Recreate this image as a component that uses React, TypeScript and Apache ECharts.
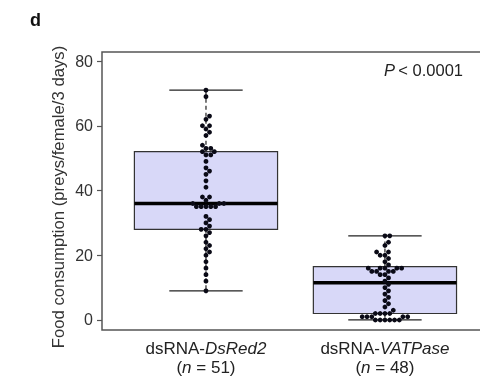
import { useEffect, useRef } from "react";
import * as echarts from "echarts";

// ---- data ----
const groupGenes = ["DsRed2", "VATPase"];
const groupN = [51, 48];
const dsRed2Values = [
  71, 69, 63, 62, 60, 60, 59, 58, 57, 54, 53, 53, 52, 52, 51, 51, 49, 47, 46, 45,
  43, 41, 38, 38, 37, 36, 36, 36, 35, 35, 35, 35, 35, 32, 31, 30, 29, 28, 28, 27,
  26, 24, 23, 22, 21, 20, 18, 16, 14, 12, 9,
];
const vatpaseValues = [
  26, 26, 24, 23, 21, 21, 20, 20, 19, 18, 17, 16, 16, 16, 16, 16, 15, 15, 15, 15,
  14, 14, 13, 12, 11, 10, 9, 8, 7, 6, 5, 4, 3, 2, 2, 2, 2, 1, 1, 1, 1, 1, 0, 0, 0,
  0, 0, 0,
];
// [min, Q1, median, Q3, max]
const dsRed2Box = [9, 28, 36, 52, 71];
const vatpaseBox = [0, 2, 11.5, 16.5, 26];
const yTickValues = [0, 20, 40, 60, 80];
const pValueText = "< 0.0001";
const yTitle = "Food consumption (preys/female/3 days)";

// ---- layout constants ----
const X_MIN = 0.419;
const X_MAX = 2.587;
const Y_MIN = -3.1;
const Y_MAX = 82.8;
const GRID_LEFT = 102;
const GRID_TOP = 52;
const GRID_W = 388;
const GRID_H = 278;
const PX_PER_X = GRID_W / (X_MAX - X_MIN);
const PX_PER_Y = GRID_H / (Y_MAX - Y_MIN);
const DOT = 4.8;
const BOX_W = 0.8;
const CAP_W = 0.41;
const FONT = "'Liberation Sans', Arial, Helvetica, sans-serif";

function swarmOffsets(values: number[]): number[] {
  const order = values.map((_, i) => i).sort((a, b) => values[a] - values[b]);
  const placed: { x: number; y: number }[] = [];
  const out = new Array(values.length).fill(0);
  const d = DOT;
  for (const i of order) {
    const y = values[i] * PX_PER_Y;
    const cands = [0];
    for (const p of placed) {
      const dy = Math.abs(p.y - y);
      if (dy < d) {
        const dx = Math.sqrt(d * d - dy * dy);
        cands.push(p.x + dx, p.x - dx);
      }
    }
    cands.sort((a, b) => Math.abs(a) - Math.abs(b));
    let chosen = 0;
    for (const c of cands) {
      if (placed.every((p) => (p.x - c) ** 2 + (p.y - y) ** 2 >= d * d - 1e-6)) {
        chosen = c;
        break;
      }
    }
    placed.push({ x: chosen, y });
    out[i] = chosen;
  }
  return out;
}

export default function App() {
  const ref = useRef<HTMLDivElement>(null);

  useEffect(() => {
    if (!ref.current) return;
    const chart = echarts.init(ref.current, null, { renderer: "svg" });

    const groups = [dsRed2Values, vatpaseValues];
    const boxes = [dsRed2Box, vatpaseBox];
    const points: number[][] = [];
    groups.forEach((vals, gi) => {
      const offs = swarmOffsets(vals);
      vals.forEach((v, i) => points.push([gi + 1 + offs[i] / PX_PER_X, v]));
    });
    const boxData = boxes.map((b, gi) => [gi + 1, ...b]);

    const option: any = {
      animation: false,
      title: {
        text: "d",
        left: 25,
        top: 6,
        textStyle: { fontFamily: FONT, fontWeight: "bold", fontSize: 18, color: "#111" },
      },
      grid: {
        left: GRID_LEFT,
        top: GRID_TOP,
        width: GRID_W,
        height: GRID_H,
        outerBoundsMode: "none",
        containLabel: false,
        show: true,
        borderColor: "#555",
        borderWidth: 1.5,
        backgroundColor: "transparent",
      },
      xAxis: {
        type: "value",
        min: X_MIN,
        max: X_MAX,
        splitLine: { show: false },
        axisLine: { show: false },
        axisTick: { show: false },
        axisLabel: {
          customValues: [1, 2],
          margin: 9,
          lineHeight: 19,
          formatter: (val: number) => {
            const gi = Math.round(val) - 1;
            return `{a|dsRNA-}{i|${groupGenes[gi]}}\n{a|(}{i|n}{a| = ${groupN[gi]})}`;
          },
          rich: {
            a: { fontFamily: FONT, fontSize: 17, color: "#222", lineHeight: 19 },
            i: { fontFamily: FONT, fontSize: 17, color: "#222", fontStyle: "italic", lineHeight: 19 },
          },
        },
      },
      yAxis: {
        type: "value",
        min: Y_MIN,
        max: Y_MAX,
        splitLine: { show: false },
        axisLine: { show: false },
        axisTick: {
          show: true,
          customValues: yTickValues,
          length: 5,
          lineStyle: { color: "#555", width: 1.2 },
        },
        axisLabel: {
          customValues: yTickValues,
          margin: 9,
          fontFamily: FONT,
          fontSize: 16,
          color: "#333",
        },
      },
      graphic: [
        {
          type: "text",
          x: 58,
          y: 197,
          rotation: Math.PI / 2,
          style: {
            text: yTitle,
            fontFamily: FONT,
            fontSize: 16.7,
            fill: "#333",
            align: "center",
            verticalAlign: "middle",
          },
        },
        {
          type: "text",
          x: 463,
          y: 70,
          style: {
            text: `{i|P} {a|${pValueText}}`,
            align: "right",
            verticalAlign: "middle",
            rich: {
              i: { fontFamily: FONT, fontSize: 16.5, fontStyle: "italic", fill: "#222" },
              a: { fontFamily: FONT, fontSize: 16.5, fill: "#222" },
            },
          },
        },
      ],
      series: [
        {
          type: "custom",
          data: boxData,
          encode: { x: 0, y: [1, 2, 3, 4, 5] },
          clip: false,
          z: 1,
          renderItem: (_params: any, api: any) => {
            const x = api.value(0);
            const [cx, yMin] = api.coord([x, api.value(1)]);
            const yQ1 = api.coord([x, api.value(2)])[1];
            const yMed = api.coord([x, api.value(3)])[1];
            const yQ3 = api.coord([x, api.value(4)])[1];
            const yMax = api.coord([x, api.value(5)])[1];
            const hw = api.size([BOX_W, 0])[0] / 2;
            const cw = api.size([CAP_W, 0])[0] / 2;
            const line = "#222";
            return {
              type: "group",
              children: [
                {
                  type: "line",
                  shape: { x1: cx, y1: yQ3, x2: cx, y2: yMax },
                  style: { stroke: line, lineWidth: 1.2, lineDash: [4, 3] },
                },
                {
                  type: "line",
                  shape: { x1: cx, y1: yQ1, x2: cx, y2: yMin },
                  style: { stroke: line, lineWidth: 1.2, lineDash: [4, 3] },
                },
                {
                  type: "line",
                  shape: { x1: cx - cw, y1: yMax, x2: cx + cw, y2: yMax },
                  style: { stroke: line, lineWidth: 1.3 },
                },
                {
                  type: "line",
                  shape: { x1: cx - cw, y1: yMin, x2: cx + cw, y2: yMin },
                  style: { stroke: line, lineWidth: 1.3 },
                },
                {
                  type: "rect",
                  shape: { x: cx - hw, y: yQ3, width: hw * 2, height: yQ1 - yQ3 },
                  style: { fill: "#d8d8f8", stroke: "#333", lineWidth: 1.2 },
                },
                {
                  type: "line",
                  shape: { x1: cx - hw, y1: yMed, x2: cx + hw, y2: yMed },
                  style: { stroke: "#000", lineWidth: 3.5 },
                },
              ],
            };
          },
        },
        {
          type: "scatter",
          data: points,
          symbol: "circle",
          symbolSize: DOT,
          z: 3,
          itemStyle: { color: "#0a0a16", opacity: 1 },
        },
      ],
    };

    chart.setOption(option);
    return () => chart.dispose();
  }, []);

  return (
    <div
      ref={ref}
      style={{ position: "fixed", left: 0, top: 0, width: 480, height: 380 }}
    />
  );
}
